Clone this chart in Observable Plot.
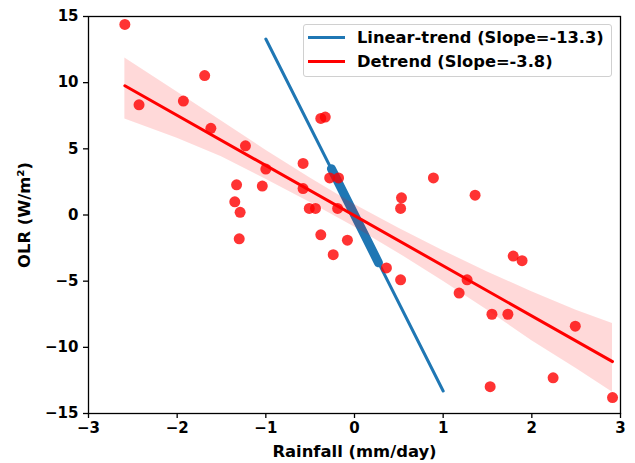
<!DOCTYPE html>
<html>
<head>
<meta charset="utf-8">
<script src="https://cdn.jsdelivr.net/npm/d3@7"></script>
<script src="https://cdn.jsdelivr.net/npm/@observablehq/plot@0.6"></script>
<style>
  html, body { margin: 0; padding: 0; background: #fff; }
  #wrap { position: relative; width: 635px; height: 463px; font-family: "DejaVu Sans", sans-serif; }
  g[aria-label="x-axis label"] text, g[aria-label="y-axis label"] text { font-size: 16.4px; }
  #legend { position: absolute; left: 303px; top: 24px; width: 307px; height: 51px;
    border: 1px solid #d0d0d0; border-radius: 3px; background: rgba(255,255,255,0.8);
    font-weight: bold; font-size: 16.3px; color: #000; }
  .row { position: absolute; left: 0; height: 20px; display: flex; align-items: center; white-space: nowrap; }
  .swatch { width: 37px; height: 3px; margin-left: 4px; margin-right: 12px; }
</style>
</head>
<body>
<div id="wrap"></div>
<script>
// Scatter points (rainfall anomaly, OLR anomaly)
const rain = [-2.59, -2.43, -1.93, -1.69, -1.62, -1.23, -1.33, -1.35, -1.29, -1.30,
  -1.04, -1.00, -0.58, -0.58, -0.51, -0.44, -0.38, -0.33, -0.38, -0.24,
  -0.08, -0.28, -0.18, -0.19, 0.36, 0.52, 0.53, 0.52, 0.89, 1.36,
  1.18, 1.27, 1.79, 1.89, 1.55, 1.73, 2.49, 1.53, 2.24, 2.91];
const olr = [14.4, 8.33, 8.61, 10.54, 6.55, 5.23, 2.28, 1.0, 0.2, -1.8,
  2.19, 3.47, 3.9, 2.0, 0.5, 0.5, 7.3, 7.4, -1.5, -3.0,
  -1.9, 2.8, 2.8, 0.5, -4.0, -4.9, 1.3, 0.5, 2.8, 1.5,
  -5.9, -4.9, -3.1, -3.45, -7.5, -7.5, -8.4, -12.97, -12.3, -13.8];

// Linear-trend line (thin full extent and thick data segment)
const trendX = [-1.0, 1.0];
const trendY = [13.3, -13.3];
const trendThickX = [-0.26, 0.27];
const trendThickY = [3.5, -3.6];

// Detrend regression line and its confidence band
const fitX = [-2.59, 2.91];
const fitY = [9.77, -11.08];
const bandX = [-2.59, -2.0, -1.5, -1.0, -0.5, 0.0, 0.5, 1.0, 1.5, 2.0, 2.5, 2.91];
const bandLo = [7.25, 5.8, 4.4, 2.7, 0.95, -0.9, -2.9, -5.0, -7.2, -9.5, -11.6, -13.4];
const bandHi = [11.86, 9.3, 7.1, 4.9, 2.8, 0.8, -1.0, -2.7, -4.3, -5.8, -7.2, -8.19];

// Axis ticks and labels
const xTicks = [-3, -2, -1, 0, 1, 2, 3];
const yTicks = [-15, -10, -5, 0, 5, 10, 15];
const xLabel = "Rainfall (mm/day)";
const yLabel = "OLR (W/m²)";
const legendLabels = ["Linear-trend (Slope=-13.3)", "Detrend (Slope=-3.8)"];
const legendColors = ["#1f77b4", "red"];

const pts = rain.map((r, i) => ({x: r, y: olr[i]}));
const band = bandX.map((x, i) => ({x, lo: bandLo[i], hi: bandHi[i]}));
const trend = trendX.map((x, i) => ({x, y: trendY[i]}));
const thick = trendThickX.map((x, i) => ({x, y: trendThickY[i]}));
const fit = fitX.map((x, i) => ({x, y: fitY[i]}));
const fmt = d => d < 0 ? "\u2212" + Math.abs(d) : String(d);

const chart = Plot.plot({
  width: 635,
  height: 463,
  marginLeft: 88,
  marginRight: 15,
  marginTop: 16,
  marginBottom: 50,
  style: {fontFamily: "DejaVu Sans", fontSize: "15px", fontWeight: "bold", color: "#000", background: "#fff"},
  x: {domain: [-3, 3]},
  y: {domain: [-15, 15]},
  marks: [
    Plot.line(trend, {x: "x", y: "y", stroke: "#1f77b4", strokeWidth: 3}),
    Plot.line(thick, {x: "x", y: "y", stroke: "#1f77b4", strokeWidth: 9, strokeLinecap: "round"}),
    Plot.areaY(band, {x: "x", y1: "lo", y2: "hi", fill: "red", fillOpacity: 0.15}),
    Plot.dot(pts, {x: "x", y: "y", r: 5.5, fill: "red", fillOpacity: 0.8, stroke: "none"}),
    Plot.line(fit, {x: "x", y: "y", stroke: "red", strokeWidth: 3}),
    Plot.frame({stroke: "#000", strokeWidth: 1.3}),
    Plot.axisX({ticks: xTicks, tickFormat: fmt, tickSize: 5, tickPadding: 4,
      label: xLabel, labelAnchor: "center", labelArrow: "none", labelOffset: 43, strokeWidth: 1.3}),
    Plot.axisY({ticks: yTicks, tickFormat: fmt, tickSize: 5, tickPadding: 5,
      label: yLabel, labelAnchor: "center", labelArrow: "none", labelOffset: 70, strokeWidth: 1.3})
  ]
});

const wrap = document.getElementById("wrap");
wrap.appendChild(chart);

const legend = document.createElement("div");
legend.id = "legend";
legendLabels.forEach((lab, i) => {
  const row = document.createElement("div");
  row.className = "row";
  row.style.top = (2.5 + i * 24) + "px";
  const sw = document.createElement("div");
  sw.className = "swatch";
  sw.style.background = legendColors[i];
  const t = document.createElement("span");
  t.textContent = lab;
  row.appendChild(sw);
  row.appendChild(t);
  legend.appendChild(row);
});
wrap.appendChild(legend);
</script>
</body>
</html>
